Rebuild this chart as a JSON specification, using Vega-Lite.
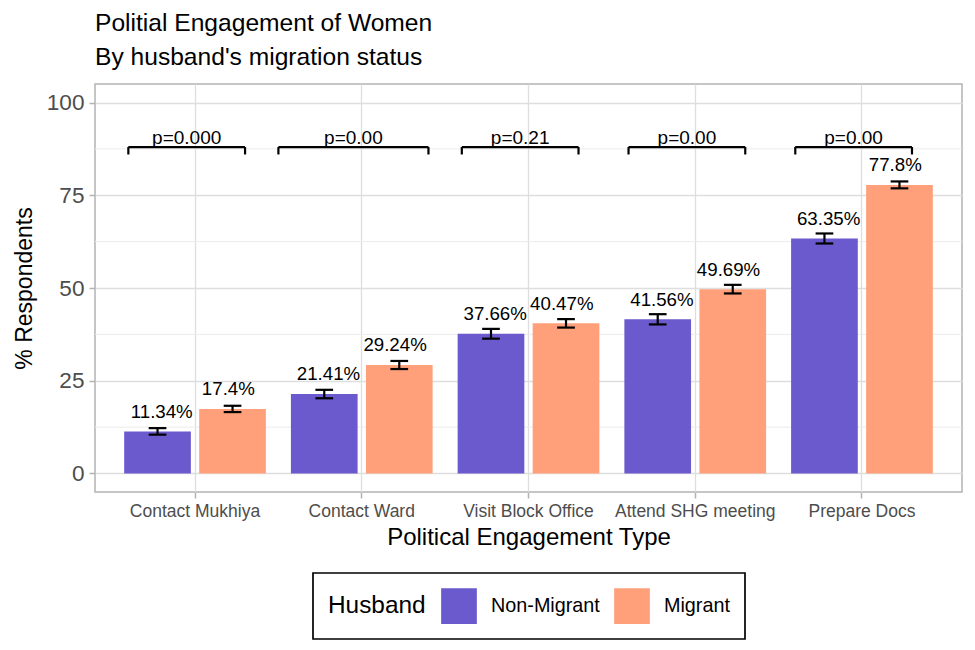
{
  "$schema": "https://vega.github.io/schema/vega-lite/v6.json",
  "autosize": "none",
  "padding": {"left": 95, "top": 84, "right": 13, "bottom": 158},
  "width": 867,
  "height": 408,
  "background": "white",
  "config": {
    "font": "Liberation Sans",
    "view": {"stroke": "#B3B3B3", "strokeWidth": 1.5}
  },
  "title": {
    "text": "Politial Engagement of Women",
    "subtitle": "By husband's migration status",
    "anchor": "start",
    "frame": "group",
    "font": "Liberation Sans",
    "fontSize": 24.6,
    "fontWeight": "normal",
    "color": "black",
    "subtitleFont": "Liberation Sans",
    "subtitleFontSize": 24.6,
    "subtitleColor": "black",
    "subtitlePadding": 10,
    "offset": 13
  },
  "datasets": {
    "engagement": [
      {"type": "Contact Mukhiya", "husband": "Non-Migrant", "pct": 11.34, "lo": 10.46, "hi": 12.22},
      {"type": "Contact Mukhiya", "husband": "Migrant", "pct": 17.4, "lo": 16.55, "hi": 18.25},
      {"type": "Contact Ward", "husband": "Non-Migrant", "pct": 21.41, "lo": 20.27, "hi": 22.55},
      {"type": "Contact Ward", "husband": "Migrant", "pct": 29.24, "lo": 28.15, "hi": 30.33},
      {"type": "Visit Block Office", "husband": "Non-Migrant", "pct": 37.66, "lo": 36.34, "hi": 38.98},
      {"type": "Visit Block Office", "husband": "Migrant", "pct": 40.47, "lo": 39.33, "hi": 41.61},
      {"type": "Attend SHG meeting", "husband": "Non-Migrant", "pct": 41.56, "lo": 40.18, "hi": 42.94},
      {"type": "Attend SHG meeting", "husband": "Migrant", "pct": 49.69, "lo": 48.53, "hi": 50.85},
      {"type": "Prepare Docs", "husband": "Non-Migrant", "pct": 63.35, "lo": 62.0, "hi": 64.7},
      {"type": "Prepare Docs", "husband": "Migrant", "pct": 77.8, "lo": 76.87, "hi": 78.73}
    ],
    "tests": [
      {"xmin": 0.6, "xmax": 1.3, "p": "p=0.000"},
      {"xmin": 1.5, "xmax": 2.4, "p": "p=0.00"},
      {"xmin": 2.6, "xmax": 3.3, "p": "p=0.21"},
      {"xmin": 3.6, "xmax": 4.3, "p": "p=0.00"},
      {"xmin": 4.6, "xmax": 5.3, "p": "p=0.00"}
    ],
    "minorGrid": [{"g": 12.5}, {"g": 37.5}, {"g": 62.5}, {"g": 87.5}]
  },
  "resolve": {"scale": {"x": "independent"}, "axis": {"x": "independent"}},
  "layer": [
    {
      "data": {"name": "engagement"},
      "transform": [{"calculate": "datum.pct + '%'", "as": "label"}],
      "encoding": {
        "x": {
          "field": "type",
          "type": "nominal",
          "sort": ["Contact Mukhiya", "Contact Ward", "Visit Block Office", "Attend SHG meeting", "Prepare Docs"],
          "scale": {"paddingInner": 0.1, "paddingOuter": 0.15},
          "axis": {
            "title": "Political Engagement Type",
            "titleFontSize": 24,
            "titleFontWeight": "normal",
            "titleColor": "black",
            "titlePadding": 6,
            "labelFontSize": 17.5,
            "labelColor": "#4D4D4D",
            "labelAngle": 0,
            "labelPadding": 4,
            "tickColor": "#B3B3B3",
            "tickSize": 6,
            "tickWidth": 1.5,
            "bandPosition": 0.5,
            "domain": false,
            "grid": true,
            "gridColor": "#DEDEDE",
            "gridWidth": 1.3
          }
        },
        "xOffset": {
          "field": "husband",
          "type": "nominal",
          "sort": ["Non-Migrant", "Migrant"],
          "scale": {"paddingInner": 0.111, "paddingOuter": 0.0556}
        }
      },
      "layer": [
        {
          "data": {"name": "minorGrid"},
          "mark": {"type": "rule", "color": "#EBEBEB", "strokeWidth": 1},
          "encoding": {
            "x": null,
            "xOffset": null,
            "y": {"field": "g", "type": "quantitative"}
          }
        },
        {
          "mark": {"type": "bar"},
          "encoding": {
            "y": {
              "field": "pct",
              "type": "quantitative",
              "scale": {"domain": [-5, 105], "nice": false, "zero": false},
              "axis": {
                "title": "% Respondents",
                "titleFontSize": 23,
                "titleFontWeight": "normal",
                "titleColor": "black",
                "titlePadding": 10,
                "values": [0, 25, 50, 75, 100],
                "labelFontSize": 22.6,
                "labelColor": "#4D4D4D",
                "labelPadding": 5,
                "tickColor": "#B3B3B3",
                "tickSize": 6,
                "tickWidth": 1.5,
                "domain": false,
                "grid": true,
                "gridColor": "#DEDEDE",
                "gridWidth": 1.3
              }
            },
            "color": {
              "field": "husband",
              "type": "nominal",
              "scale": {"domain": ["Non-Migrant", "Migrant"], "range": ["#6A5ACD", "#FFA07A"]},
              "legend": {
                "orient": "none",
                "legendX": 218,
                "legendY": 489,
                "direction": "horizontal",
                "title": "Husband",
                "titleOrient": "left",
                "titleFontSize": 24.4,
                "titleFontWeight": "normal",
                "titleColor": "black",
                "titleBaseline": "middle",
                "titleAnchor": "middle",
                "titlePadding": 15,
                "symbolType": "square",
                "symbolSize": 1275,
                "symbolStrokeWidth": 0,
                "symbolOpacity": 1,
                "labelFontSize": 19.8,
                "labelColor": "black",
                "labelOffset": 14,
                "columnPadding": 14,
                "padding": 15,
                "strokeColor": "black",
                "fillColor": "white",
                "encode": {"legend": {"update": {"strokeWidth": {"value": 1.7}}}}
              }
            }
          }
        },
        {
          "mark": {"type": "rule", "color": "black", "strokeWidth": 2.2},
          "encoding": {
            "y": {"field": "lo", "type": "quantitative"},
            "y2": {"field": "hi"}
          }
        },
        {
          "mark": {"type": "tick", "color": "black", "size": 17.7, "thickness": 2.2, "opacity": 1},
          "encoding": {"y": {"field": "lo", "type": "quantitative"}}
        },
        {
          "mark": {"type": "tick", "color": "black", "size": 17.7, "thickness": 2.2, "opacity": 1},
          "encoding": {"y": {"field": "hi", "type": "quantitative"}}
        },
        {
          "transform": [{"filter": "datum.husband === 'Non-Migrant'"}],
          "mark": {"type": "text", "fontSize": 18.7, "color": "black", "baseline": "alphabetic", "dy": -13.6, "dx": 4.2},
          "encoding": {
            "y": {"field": "pct", "type": "quantitative"},
            "text": {"field": "label"}
          }
        },
        {
          "transform": [{"filter": "datum.husband === 'Migrant'"}],
          "mark": {"type": "text", "fontSize": 18.7, "color": "black", "baseline": "alphabetic", "dy": -13.6, "dx": -4.2},
          "encoding": {
            "y": {"field": "pct", "type": "quantitative"},
            "text": {"field": "label"}
          }
        }
      ]
    },
    {
      "data": {"name": "tests"},
      "transform": [{"calculate": "(datum.xmin + datum.xmax) / 2", "as": "xmid"}],
      "layer": [
        {
          "mark": {"type": "rule", "color": "black", "strokeWidth": 2.2},
          "encoding": {
            "x": {"field": "xmin", "type": "quantitative", "scale": {"domain": [0.4, 5.6], "nice": false, "zero": false}, "axis": null},
            "x2": {"field": "xmax"},
            "y": {"datum": 88}
          }
        },
        {
          "mark": {"type": "rule", "color": "black", "strokeWidth": 2.2},
          "encoding": {
            "x": {"field": "xmin", "type": "quantitative"},
            "y": {"datum": 88},
            "y2": {"datum": 86}
          }
        },
        {
          "mark": {"type": "rule", "color": "black", "strokeWidth": 2.2},
          "encoding": {
            "x": {"field": "xmax", "type": "quantitative"},
            "y": {"datum": 88},
            "y2": {"datum": 86}
          }
        },
        {
          "mark": {"type": "text", "fontSize": 19, "color": "black", "baseline": "alphabetic", "dy": -3.4},
          "encoding": {
            "x": {"field": "xmid", "type": "quantitative"},
            "y": {"datum": 88},
            "text": {"field": "p"}
          }
        }
      ]
    }
  ]
}
